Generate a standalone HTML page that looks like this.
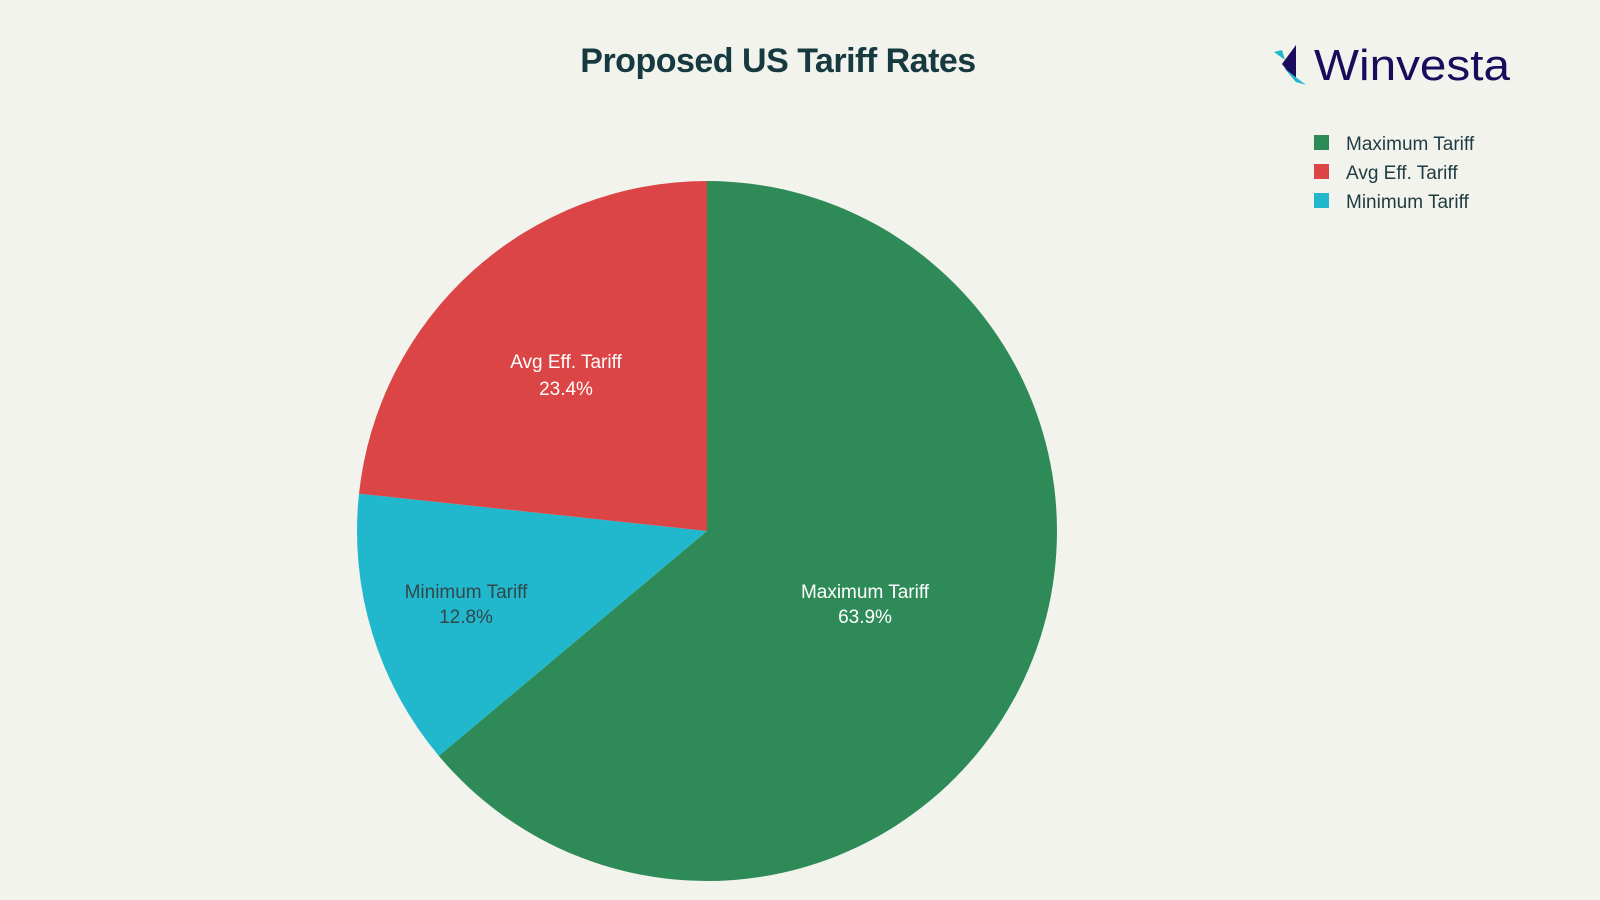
<!DOCTYPE html>
<html><head><meta charset="utf-8"><style>
body{margin:0;width:1600px;height:900px;background:#f3f3ee;font-family:"Liberation Sans",sans-serif;overflow:hidden}
</style></head><body>
<svg width="1600" height="900" xmlns="http://www.w3.org/2000/svg" style="position:absolute;left:0;top:0">
<text x="778" y="72" text-anchor="middle" font-size="34" font-weight="bold" fill="#163a3f" font-family="Liberation Sans, sans-serif" letter-spacing="-0.5">Proposed US Tariff Rates</text>
<path d="M707,531 L707,181 A350,350 0 1 1 438.8,755.9 Z" fill="#2e8b57"/>
<path d="M707,531 L438.8,755.9 A350,350 0 0 1 359,493.7 Z" fill="#21b8cd"/>
<path d="M707,531 L359,493.7 A350,350 0 0 1 707,181 Z" fill="#db4545"/>
<g font-family="Liberation Sans, sans-serif" font-size="19" text-anchor="middle">
<text x="865" y="598" fill="#fff">Maximum Tariff</text>
<text x="865" y="623" fill="#fff">63.9%</text>
<text x="566" y="368" fill="#fff">Avg Eff. Tariff</text>
<text x="566" y="395" fill="#fff">23.4%</text>
<text x="466" y="598" fill="#33474a">Minimum Tariff</text>
<text x="466" y="623" fill="#33474a">12.8%</text>
</g>
<g font-family="Liberation Sans, sans-serif" font-size="19" fill="#1f3b40">
<rect x="1314" y="135" width="15" height="15" fill="#2e8b57"/><text x="1346" y="150">Maximum Tariff</text>
<rect x="1314" y="164" width="15" height="15" fill="#db4545"/><text x="1346" y="179">Avg Eff. Tariff</text>
<rect x="1314" y="193" width="15" height="15" fill="#21b8cd"/><text x="1346" y="208">Minimum Tariff</text>
</g>
<polygon points="1274,52 1282,50 1285,60" fill="#21b8cd"/>
<polygon points="1296,45 1296,82 1282,64" fill="#1a0b5c"/>
<polygon points="1284,68 1296,82 1306,85" fill="#21b8cd"/>
<text x="1314" y="80" font-size="44" fill="#1a0b5c" font-family="Liberation Sans, sans-serif" textLength="196" lengthAdjust="spacingAndGlyphs">Winvesta</text>
</svg>
</body></html>
